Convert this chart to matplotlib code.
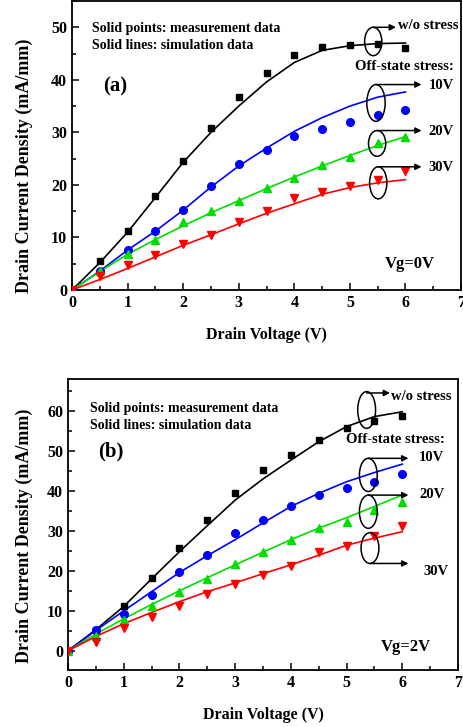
import matplotlib
matplotlib.use('Agg')
import matplotlib.pyplot as plt
from matplotlib.patches import Ellipse
from matplotlib.ticker import MultipleLocator

plt.rcParams['font.family'] = ['Liberation Serif', 'DejaVu Serif']
plt.rcParams['font.weight'] = 'bold'

# drain voltage (V)
vd = [0, 0.5, 1, 1.5, 2, 2.5, 3, 3.5, 4, 4.5, 5, 5.5, 6]

# (a) Vg = 0 V : measured points
a_meas_wo = [0, 5.5, 11.2, 17.8, 24.6, 30.9, 36.7, 41.3, 44.8, 46.3, 46.6, 46.8, 46.1]
a_meas_10 = [0, 3.6, 7.6, 11.2, 15.2, 19.7, 23.9, 26.6, 29.4, 30.7, 31.9, 33.4, 34.2]
a_meas_20 = [0, 3.6, 6.8, 9.5, 12.9, 15.0, 16.9, 19.5, 21.3, 23.7, 25.3, 27.9, 29.1]
a_meas_30 = [0, 2.7, 4.8, 6.6, 8.7, 10.5, 12.9, 15.0, 17.6, 18.6, 19.7, 20.9, 22.6]
# (a) simulation lines
a_sim_wo = [0, 5.2, 11.0, 17.6, 24.3, 30.0, 35.0, 39.6, 43.3, 45.6, 46.5, 46.9, 47.0]
a_sim_10 = [0, 3.6, 7.6, 11.2, 15.2, 19.6, 23.6, 27.0, 30.2, 32.8, 35.0, 36.7, 37.7]
a_sim_20 = [0, 3.5, 6.8, 9.6, 12.2, 14.7, 17.0, 19.3, 21.5, 23.6, 25.6, 27.5, 29.2]
a_sim_30 = [0, 2.0, 4.1, 6.3, 8.5, 10.5, 12.6, 14.6, 16.4, 18.2, 19.5, 20.4, 21.0]

# (b) Vg = 2 V : measured points
b_meas_wo = [0, 5.3, 11.3, 18.3, 25.7, 32.8, 39.4, 45.2, 49.1, 52.7, 55.7, 57.6, 58.8]
b_meas_10 = [0, 5.3, 9.2, 14.0, 19.6, 23.9, 29.4, 32.7, 36.2, 39.0, 40.8, 42.3, 44.2]
b_meas_20 = [0, 3.8, 7.8, 11.3, 14.7, 17.9, 21.6, 24.8, 27.7, 30.7, 32.3, 35.3, 37.3]
b_meas_30 = [0, 2.3, 5.7, 8.4, 11.3, 14.1, 16.7, 19.0, 21.2, 24.6, 26.3, 28.6, 31.3]
# (b) simulation lines
b_sim_wo = [0, 5.3, 11.1, 18.0, 24.8, 31.3, 37.7, 43.0, 47.7, 52.3, 56.1, 58.6, 59.8]
b_sim_10 = [0, 5.1, 10.0, 14.8, 19.6, 23.8, 27.8, 32.0, 36.1, 39.4, 42.3, 44.6, 46.7]
b_sim_20 = [0, 4.2, 8.0, 11.6, 15.0, 18.3, 21.5, 24.7, 27.8, 30.7, 33.3, 36.1, 39.0]
b_sim_30 = [0, 3.6, 6.8, 9.6, 12.3, 14.8, 17.0, 19.3, 21.5, 23.9, 26.4, 28.2, 29.8]

colors = ['black', '#0000ff', '#00dd00', '#ff0000']
markers = ['s', 'o', '^', 'v']
msizes = [4.5, 5.5, 5.5, 5.5]

fig = plt.figure(figsize=(4.64, 7.27), dpi=100)
ax1 = fig.add_axes([0.1552, 0.6011, 0.8384, 0.3975])
ax2 = fig.add_axes([0.1466, 0.0784, 0.8405, 0.4003])


def draw_panel(ax, meas, sims, ylim, ymajor):
    for y, s, c, m, ms in zip(meas, sims, colors, markers, msizes):
        ax.plot(vd, s, color=c, lw=1.2, zorder=2)
        ax.plot(vd, y, linestyle='none', marker=m, color=c, ms=ms, zorder=3)
    ax.set_xlim(0, 7)
    ax.set_ylim(*ylim)
    ax.xaxis.set_major_locator(MultipleLocator(1))
    ax.xaxis.set_minor_locator(MultipleLocator(0.5))
    ax.yaxis.set_major_locator(MultipleLocator(ymajor))
    ax.yaxis.set_minor_locator(MultipleLocator(ymajor / 2))
    ax.tick_params(which='both', direction='in', top=False, right=False,
                   labelsize=11.5, width=1.1)
    ax.tick_params(which='major', length=5)
    ax.tick_params(which='minor', length=3)
    for sp in ax.spines.values():
        sp.set_linewidth(1.3)
    ax.set_xlabel('Drain Voltage (V)', fontsize=11.5, fontweight='bold')
    ax.set_ylabel('Drain Current Density (mA/mm)', fontsize=13, fontweight='bold')


def mark(ax, cx, cy, w, h, ay, x_end):
    ax.add_patch(Ellipse((cx, cy), w, h, fill=False, edgecolor='black', lw=1.1, zorder=4))
    ax.annotate('', xy=(x_end, ay), xytext=(cx, ay),
                arrowprops=dict(arrowstyle='-|>', color='black', lw=1.1,
                                mutation_scale=9, shrinkA=0, shrinkB=0))


# ---- panel (a)
draw_panel(ax1, [a_meas_wo, a_meas_10, a_meas_20, a_meas_30],
           [a_sim_wo, a_sim_10, a_sim_20, a_sim_30], (0, 55), 10)
ax1.set_yticks([0, 10, 20, 30, 40, 50])
ax1.xaxis.set_label_coords(0.5, -0.128)
ax1.yaxis.set_label_coords(-0.10, 0.43)
ax1.text(0.36, 49.7, 'Solid points: measurement data', fontsize=10, va='center')
ax1.text(0.36, 46.6, 'Solid lines: simulation data', fontsize=10, va='center')
ax1.text(0.56, 38.7, '(a)', fontsize=15, va='center')
mark(ax1, 5.42, 47.3, 0.31, 5.4, 50.0, 5.83)
mark(ax1, 5.47, 35.6, 0.33, 7.0, 39.1, 6.29)
mark(ax1, 5.49, 27.9, 0.31, 4.9, 30.35, 6.29)
mark(ax1, 5.51, 20.4, 0.31, 6.1, 23.45, 6.29)
ax1.text(5.86, 50.3, 'w/o stress', fontsize=10.5, va='center')
ax1.text(6.87, 42.5, 'Off-state stress:', fontsize=10.5, va='center', ha='right')
ax1.text(6.42, 38.9, '10V', fontsize=10.5, va='center')
ax1.text(6.42, 30.2, '20V', fontsize=10.5, va='center')
ax1.text(6.42, 23.3, '30V', fontsize=10.5, va='center')
ax1.text(6.08, 4.9, 'Vg=0V', fontsize=12, va='center', ha='center')

# ---- panel (b)
draw_panel(ax2, [b_meas_wo, b_meas_10, b_meas_20, b_meas_30],
           [b_sim_wo, b_sim_10, b_sim_20, b_sim_30], (-4.8, 68), 10)
ax2.set_yticks([0, 10, 20, 30, 40, 50, 60])
ax2.xaxis.set_label_coords(0.5, -0.127)
ax2.yaxis.set_label_coords(-0.09, 0.46)
ax2.text(0.39, 60.5, 'Solid points: measurement data', fontsize=10, va='center')
ax2.text(0.39, 56.3, 'Solid lines: simulation data', fontsize=10, va='center')
ax2.text(0.54, 49.8, '(b)', fontsize=15, va='center')
mark(ax2, 5.36, 60.25, 0.32, 9.2, 64.5, 5.78)
mark(ax2, 5.39, 44.0, 0.32, 8.3, 48.15, 6.11)
mark(ax2, 5.39, 34.8, 0.32, 8.3, 38.95, 6.11)
mark(ax2, 5.42, 25.7, 0.32, 7.7, 21.85, 6.11)
ax2.text(5.8, 63.6, 'w/o stress', fontsize=10.5, va='center')
ax2.text(6.77, 52.75, 'Off-state stress:', fontsize=10.5, va='center', ha='right')
ax2.text(6.3, 48.25, '10V', fontsize=10.5, va='center')
ax2.text(6.3, 39.0, '20V', fontsize=10.5, va='center')
ax2.text(6.38, 19.8, '30V', fontsize=10.5, va='center')
ax2.text(6.07, 1.0, 'Vg=2V', fontsize=12, va='center', ha='center')

fig.savefig('out.png', dpi=100)
